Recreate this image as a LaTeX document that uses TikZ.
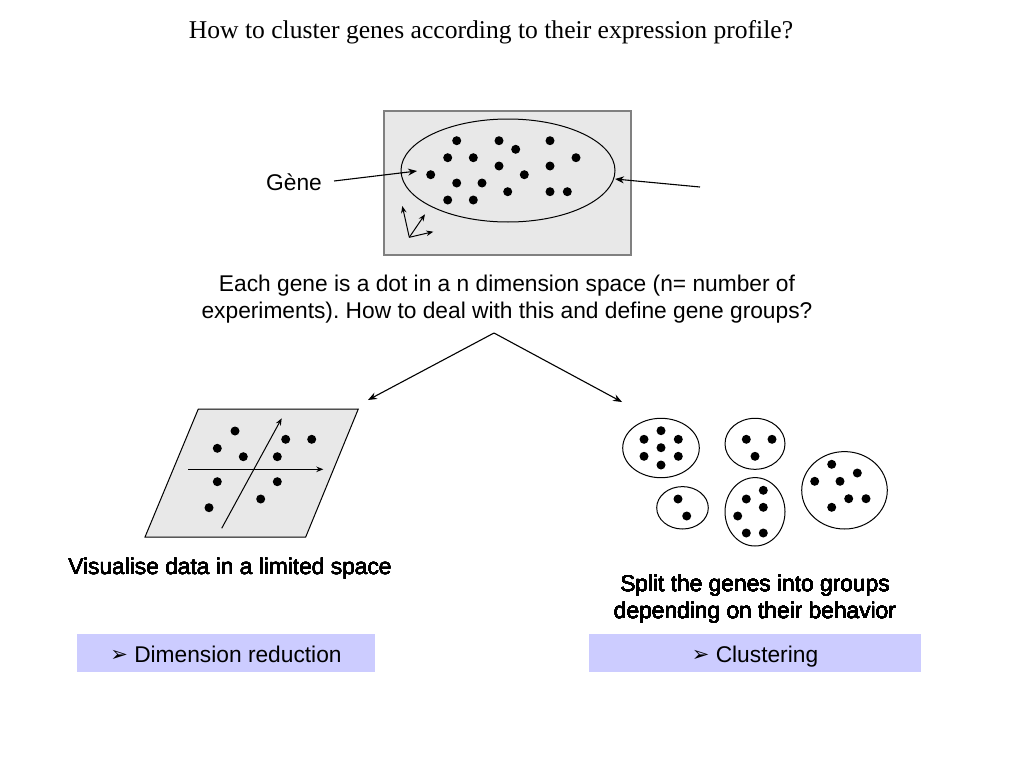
\documentclass[tikz,border=0pt]{standalone}
\usepackage{fontspec}
\setmainfont{Liberation Sans}
\newfontfamily\titlefont{Liberation Serif}
\newfontfamily\symfont{DejaVu Sans}
\usetikzlibrary{arrows.meta,shapes.geometric}
\definecolor{panelgray}{RGB}{232,232,232}
\definecolor{framegray}{RGB}{128,128,128}
\definecolor{tagblue}{RGB}{204,204,255}
\frenchspacing
\begin{document}
\begin{tikzpicture}[x=1pt,y=-1pt,
  txt/.style={font=\fontsize{22.75}{27}\selectfont, align=center, inner sep=0},
  arr/.style={-{Stealth[length=9pt,width=7pt]}, line width=1.1pt},
  thinarr/.style={-{Stealth[length=7pt,width=5.5pt]}, line width=1pt},
  oval/.style={ellipse, draw, line width=1pt, inner sep=0},
  tagbox/.style={fill=tagblue, minimum height=38pt, inner sep=0, text height=20pt, text depth=2pt, font=\fontsize{22.75}{27}\selectfont}]
\useasboundingbox (0,0) rectangle (1024,768);
\newcommand{\dotat}[2]{\fill (#1,#2) circle[radius=4.5pt];}
\newcommand{\tagmark}{{\symfont\fontsize{21}{21}\selectfont\raisebox{0.5pt}{➢}}}

% title
\node[font=\titlefont\fontsize{25.6}{30}\selectfont, anchor=base, inner sep=0] (title) at (491,38) {How to cluster genes according to their expression profile?};

% top panel
\draw[fill=panelgray, draw=framegray, line width=1.2pt] (384,111) rectangle (631,255);
\node[oval, minimum width=214pt, minimum height=103pt] (cloud) at (508,170.5) {};
\foreach \x/\y in {456.7/140.7, 499/140.7, 550/140.7, 515.7/149.3, 447.7/157.7, 473.3/157.7, 576/157.7, 499/166, 550/166, 430.7/174.7, 524.3/174.7, 456.7/183, 482/183, 507.7/191.7, 550/191.7, 567.3/191.7, 447.7/200, 473.3/200}
  \dotat{\x}{\y}
\coordinate (ax0) at (409.3,237.3);
\coordinate (ax1) at (402.3,206);
\coordinate (ax2) at (425,214.3);
\coordinate (ax3) at (433.3,231.7);
\draw[thinarr] (ax0) -- (ax1);
\draw[thinarr] (ax0) -- (ax2);
\draw[thinarr] (ax0) -- (ax3);

\node[txt, anchor=base] (gene) at (294,190) {Gène};
\coordinate (gtip) at (417,171);
\draw[arr] ([xshift=12pt,yshift=9pt]gene.base east) -- (gtip);
\coordinate (rstart) at (700,187);
\coordinate (rtip) at (615,179);
\draw[arr] (rstart) -- (rtip);

\node[txt] (desc) at (507,299) {Each gene is a dot in a n dimension space (n= number of\\experiments). How to deal with this and define gene groups?};

% branching arrows
\coordinate (apex) at (494,333);
\coordinate (ltip) at (368,400);
\coordinate (rtip2) at (622,402);
\draw[arr] (apex) -- (ltip);
\draw[arr] (apex) -- (rtip2);

% left: projection plane
\draw[fill=panelgray, line width=1pt] (198.3,409) -- (358.3,409) -- (305.7,537) -- (145,537) -- cycle;
\coordinate (h0) at (188.3,469.3);
\coordinate (h1) at (323.3,469.3);
\coordinate (d0) at (221.7,528.3);
\coordinate (d1) at (281.7,418.3);
\draw[thinarr] (h0) -- (h1);
\draw[thinarr] (d0) -- (d1);
\foreach \x/\y in {235/431, 285.7/439.3, 311.7/439.3, 217.3/448.3, 243.3/456.7, 277.3/456.7, 217.3/481.7, 277.3/481.7, 260.7/499, 209/507.7}
  \dotat{\x}{\y}
\node[txt, anchor=base] (vis) at (230,574) {Visualise data in a limited space};

% right: clusters
\node[oval, minimum width=76.6pt, minimum height=59.4pt] (c1) at (661,448) {};
\node[oval, minimum width=60pt, minimum height=51pt] (c2) at (755,443.8) {};
\node[oval, minimum width=51.6pt, minimum height=42.4pt] (c3) at (682.5,507.8) {};
\node[oval, minimum width=60pt, minimum height=68.4pt] (c4) at (755,511.8) {};
\node[oval, minimum width=85.6pt, minimum height=77.4pt] (c5) at (844.5,490.3) {};
\foreach \x/\y in {661/430.7, 644/439.3, 678.3/439.3, 661/447.7, 644/456.3, 678.3/456.3, 661/465,
  746.3/439.3, 772/439.3, 755/456.3,
  678/499, 686.7/516,
  763.3/490.3, 746.3/499, 763.3/507.3, 737.7/516, 746.3/533, 763.3/533,
  831.7/464.3, 857.3/473, 814.7/481.3, 840/481.3, 848.7/498.7, 866/498.7, 831.7/507.3}
  \dotat{\x}{\y}
\node[txt] (split) at (755,599) {Split the genes into groups\\depending on their behavior};

% tags
\node[tagbox, minimum width=298pt] (dimred) at (226,653) {\tagmark\ Dimension reduction};
\node[tagbox, minimum width=332pt] (clust) at (755,653) {\tagmark\ Clustering};
\end{tikzpicture}
\end{document}
